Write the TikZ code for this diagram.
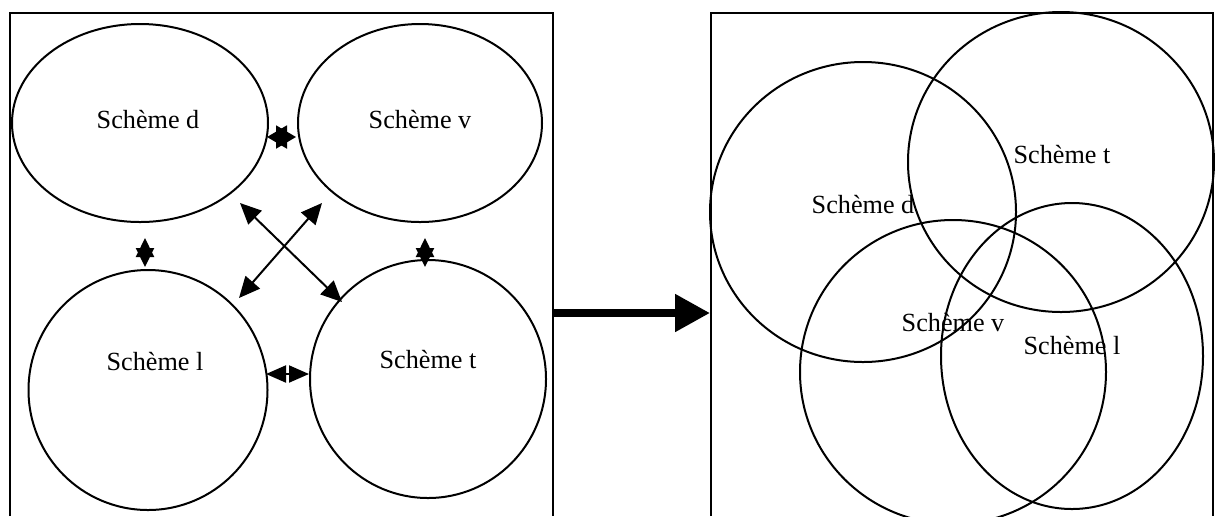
\documentclass[tikz,border=0pt]{standalone}
\usepackage{fontspec}
\setmainfont{Liberation Serif}
\usetikzlibrary{shapes.geometric,arrows.meta}
\begin{document}
\begin{tikzpicture}[x=0.5pt,y=-0.5pt,
  frame/.style={line width=1pt},
  oval/.style={draw,line width=1pt,ellipse,inner sep=0pt},
  lbl/.style={font=\fontsize{13.1pt}{15pt}\selectfont,inner sep=0pt},
  dbl/.style={line width=1pt,{Triangle[length=10.5pt,width=9.5pt]}-{Triangle[length=10.5pt,width=9.5pt]}}]
\useasboundingbox (0,0) rectangle (1215,516);
% frames
\draw[frame] (10,516) -- (10,13) -- (553,13) -- (553,516);
\draw[frame] (711,516) -- (711,13) -- (1213,13) -- (1213,516);
% left ellipses
\node[oval,minimum width=128pt,minimum height=99pt] (ld) at (140,123) {};
\node[oval,minimum width=122pt,minimum height=99pt] (lv) at (420,123) {};
\node[oval,minimum width=119.5pt,minimum height=120pt] (ll) at (148,390) {};
\node[oval,minimum width=118pt,minimum height=119pt] (lt) at (428,379) {};
\node[lbl] (tld) at (148,120) {Schème d};
\node[lbl] (tlv) at (420,120) {Schème v};
\node[lbl] (tll) at (155,362) {Schème l};
\node[lbl] (tlt) at (428,360) {Schème t};
% star arrows
\coordinate (s1a) at (267,137); \coordinate (s1b) at (296,137);
\draw[line width=1pt,{Triangle[length=10pt,width=11.5pt]}-{Triangle[length=10pt,width=11.5pt]}] (s1a) -- (s1b);
\coordinate (s2a) at (145,238); \coordinate (s2b) at (145,267);
\draw[line width=1pt,{Triangle[length=9.5pt,width=9pt]}-{Triangle[length=9.5pt,width=9pt]}] (s2a) -- (s2b);
\coordinate (s3a) at (425,238); \coordinate (s3b) at (425,267);
\draw[line width=1pt,{Triangle[length=9.5pt,width=9pt]}-{Triangle[length=9.5pt,width=9pt]}] (s3a) -- (s3b);
\coordinate (s4a) at (266,374); \coordinate (s4b) at (309,374);
\draw[line width=1pt,{Triangle[length=10pt,width=8.5pt]}-{Triangle[length=10pt,width=8.5pt]}] (s4a) -- (s4b);
% cross arrows
\coordinate (c1a) at (240,203); \coordinate (c1b) at (342,302);
\coordinate (c2a) at (322,203); \coordinate (c2b) at (239,298);
\draw[dbl] (c1a) -- (c1b);
\draw[dbl] (c2a) -- (c2b);
% big arrow
\coordinate (ba) at (553,313); \coordinate (bb) at (710,313);
\draw[line width=4pt,-{Triangle[length=17.5pt,width=18pt]}] (ba) -- (bb);
% right circles
\node[oval,minimum width=153pt,minimum height=150pt] (rd) at (863,212) {};
\node[oval,minimum width=153pt,minimum height=150pt] (rt) at (1061,162) {};
\node[oval,minimum width=153pt,minimum height=152pt] (rv) at (953,372) {};
\node[oval,minimum width=131pt,minimum height=153pt] (rl) at (1072,356) {};
\node[lbl] (trd) at (863,205) {Schème d};
\node[lbl] (trt) at (1062,155) {Schème t};
\node[lbl] (trv) at (953,323) {Schème v};
\node[lbl] (trl) at (1072,346) {Schème l};
\end{tikzpicture}
\end{document}
